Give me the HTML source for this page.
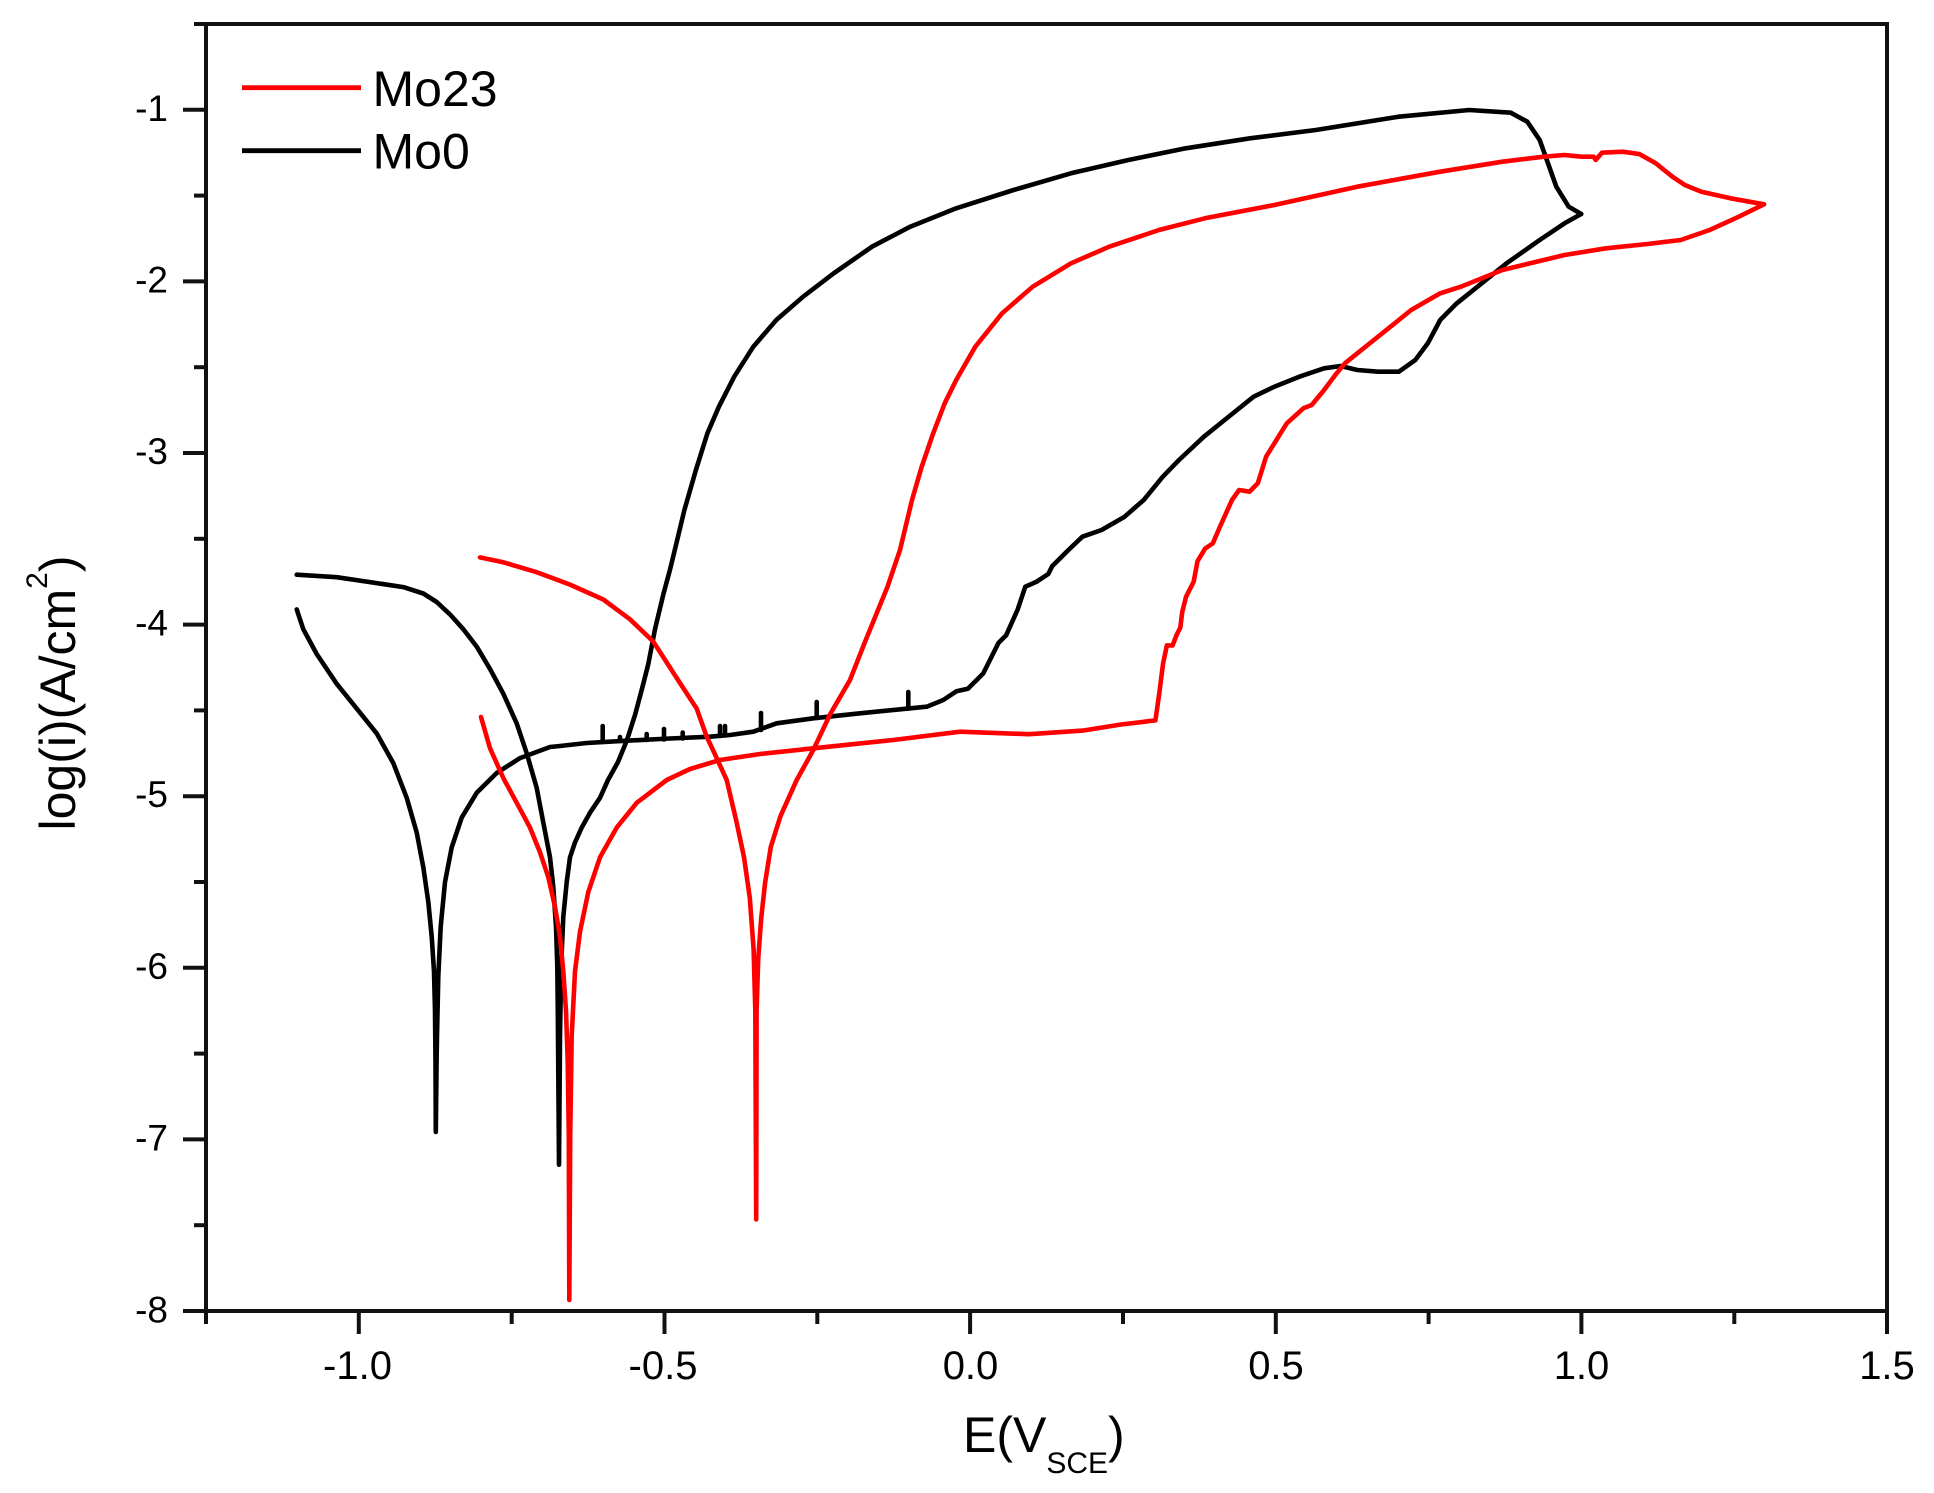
<!DOCTYPE html>
<html>
<head>
<meta charset="utf-8">
<style>
  html,body{margin:0;padding:0;background:#fff;}
  svg{display:block;}
  text{font-family:"Liberation Sans",Arial,sans-serif;fill:#000;}
</style>
</head>
<body>
<svg width="1934" height="1493" viewBox="0 0 1934 1493" xmlns="http://www.w3.org/2000/svg">
  <rect x="0" y="0" width="1934" height="1493" fill="#fff"/>

  <!-- Axes frame -->
  <g stroke="#111" stroke-width="4" fill="none" stroke-linecap="square">
    <line x1="206" y1="24" x2="1887" y2="24"/>
    <line x1="1887" y1="24" x2="1887" y2="1311"/>
    <line x1="206" y1="24" x2="206" y2="1311"/>
    <line x1="206" y1="1311" x2="1887" y2="1311"/>
  </g>

  <!-- Y ticks -->
  <g stroke="#111" stroke-width="4">
    <line x1="183" y1="109.8" x2="206" y2="109.8"/>
    <line x1="183" y1="281.4" x2="206" y2="281.4"/>
    <line x1="183" y1="453" x2="206" y2="453"/>
    <line x1="183" y1="624.6" x2="206" y2="624.6"/>
    <line x1="183" y1="796.2" x2="206" y2="796.2"/>
    <line x1="183" y1="967.8" x2="206" y2="967.8"/>
    <line x1="183" y1="1139.4" x2="206" y2="1139.4"/>
    <line x1="183" y1="1311" x2="206" y2="1311"/>
    <line x1="194" y1="24" x2="206" y2="24"/>
    <line x1="194" y1="195.6" x2="206" y2="195.6"/>
    <line x1="194" y1="367.2" x2="206" y2="367.2"/>
    <line x1="194" y1="538.8" x2="206" y2="538.8"/>
    <line x1="194" y1="710.4" x2="206" y2="710.4"/>
    <line x1="194" y1="882" x2="206" y2="882"/>
    <line x1="194" y1="1053.6" x2="206" y2="1053.6"/>
    <line x1="194" y1="1225.2" x2="206" y2="1225.2"/>
  </g>
  <!-- X ticks -->
  <g stroke="#111" stroke-width="4">
    <line x1="358.8" y1="1311" x2="358.8" y2="1334"/>
    <line x1="664.5" y1="1311" x2="664.5" y2="1334"/>
    <line x1="970.1" y1="1311" x2="970.1" y2="1334"/>
    <line x1="1275.8" y1="1311" x2="1275.8" y2="1334"/>
    <line x1="1581.4" y1="1311" x2="1581.4" y2="1334"/>
    <line x1="1887" y1="1311" x2="1887" y2="1334"/>
    <line x1="206" y1="1311" x2="206" y2="1324"/>
    <line x1="511.7" y1="1311" x2="511.7" y2="1324"/>
    <line x1="817.3" y1="1311" x2="817.3" y2="1324"/>
    <line x1="1123" y1="1311" x2="1123" y2="1324"/>
    <line x1="1428.6" y1="1311" x2="1428.6" y2="1324"/>
    <line x1="1734.3" y1="1311" x2="1734.3" y2="1324"/>
  </g>

  <!-- Y tick labels -->
  <g font-size="37" text-anchor="end">
    <text x="168" y="121">-1</text>
    <text x="168" y="292.5">-2</text>
    <text x="168" y="464">-3</text>
    <text x="168" y="635.5">-4</text>
    <text x="168" y="807">-5</text>
    <text x="168" y="979">-6</text>
    <text x="168" y="1150.5">-7</text>
    <text x="168" y="1322.5">-8</text>
  </g>
  <!-- X tick labels -->
  <g font-size="40" text-anchor="middle">
    <text x="357.5" y="1379">-1.0</text>
    <text x="663" y="1379">-0.5</text>
    <text x="970.5" y="1379">0.0</text>
    <text x="1276" y="1379">0.5</text>
    <text x="1581.5" y="1379">1.0</text>
    <text x="1887" y="1379">1.5</text>
  </g>

  <!-- Axis titles -->
  <text x="963" y="1452" font-size="50">E(V<tspan font-size="30" dy="21">SCE</tspan><tspan dy="-21">)</tspan></text>
  <text transform="translate(75,693) rotate(-90)" text-anchor="middle" font-size="50">log(i)(A/cm<tspan font-size="30" dy="-28">2</tspan><tspan dy="28">)</tspan></text>

  <!-- Legend -->
  <line x1="242" y1="87.7" x2="361" y2="87.7" stroke="#ff0000" stroke-width="4.8"/>
  <text x="372.5" y="106" font-size="50">Mo23</text>
  <line x1="242" y1="150.7" x2="361" y2="150.7" stroke="#000" stroke-width="4.8"/>
  <text x="372.5" y="168.3" font-size="50">Mo0</text>

  <!-- Mo0 (black) -->
  <g fill="none" stroke="#000" stroke-width="4.6" stroke-linejoin="round" stroke-linecap="round">
    <!-- forward scan -->
    <polyline points="296.7,609.4 303.3,629.2 316.7,654 336.7,683.8 356.7,708.6 376.7,733.4 393.3,763.1 406.7,797.8 416.7,832.5 423.3,867.2 428.3,901.9 431.7,936.6 434,971.3 435,1011 435.5,1060.6 435.8,1132 436.6,1060 437,1035.8 438.3,976.3 440.7,926.7 445,882.1 451.7,847.4 461.7,817.6 476.7,792.8 496.7,773 520,758.1 550,747 560,746 586.7,743 626.7,740.7 670,738.5 710,736.7 730,735 753.3,731.7 776.7,723.3 813.3,718.3 860,713.3 926.7,706.7 943.3,700 956.4,691.3 967.9,688.8 983.2,673.5 998.5,642.9 1006.2,635.2 1017.6,609.7 1025.3,586.7 1036.8,581.6 1048.3,574 1052.1,566.3 1067.4,551 1082.4,536.7 1101.6,530 1124.6,516.7 1143.7,500 1162.8,476.7 1179,460 1203.9,436.7 1224.6,420 1253.6,396.7 1274.4,386.7 1299.3,376.7 1324.1,368.3 1340.7,366 1357.3,370 1378,371.7 1398.8,371.7 1415.3,360 1427.8,343.3 1440.2,320 1456.8,303.3 1481.7,283.3 1506.6,263.3 1539.7,240 1564.6,223.3 1581.2,214"/>
    <!-- reverse scan -->
    <polyline points="1581.2,214 1568.7,206.7 1556.3,186.7 1548,163.3 1539.7,140 1527.3,121.7 1510.7,112.7 1469.2,110 1398.8,116.7 1315.8,130 1250,138.3 1185.8,148.3 1128.4,160 1071,173.3 1013.6,190 956.2,208.3 910.2,226.7 872,246.7 833.7,273.3 803.1,296.7 776.3,320 753.3,346.7 734.2,376.7 718.9,406.7 707.4,433.3 695.9,470 684.4,510 676,545 670,569.7 663.3,594.5 655,629.2 648.3,664 643,685 635,715 627,740 618,762 608,780 600,797.8 590,812.7 581.7,827.6 575,842.4 570,857.3 566.7,882.1 563.3,916.8 561.3,961.4 560,1035.8 559,1164.7 558.2,1060.6 557.8,1011 557.3,966.4 556,926.7 553.3,887.1 550,857.3 543.3,822.6 536.7,787.9 526.7,753.2 516.7,723.4 503.3,693.7 490,668.9 476.7,646.6 463.3,629.2 450,614.4 436.7,602 423.3,593.5 403.3,587.1 370,582.1 336.7,577.2 296.7,574.7"/>
    <!-- pitting spikes -->
    <line x1="602.7" y1="741" x2="602.7" y2="726"/>
    <line x1="620" y1="741" x2="620" y2="737"/>
    <line x1="646.7" y1="740" x2="646.7" y2="734"/>
    <line x1="664" y1="739.5" x2="664" y2="729"/>
    <line x1="682.7" y1="738.5" x2="682.7" y2="732.5"/>
    <line x1="720" y1="736" x2="720" y2="726"/>
    <line x1="725" y1="735.5" x2="725" y2="726"/>
    <line x1="761" y1="730" x2="761" y2="713"/>
    <line x1="816.7" y1="718" x2="816.7" y2="702"/>
    <line x1="908.3" y1="708.5" x2="908.3" y2="692"/>
  </g>

  <!-- Mo23 (red) -->
  <g fill="none" stroke="#ff0000" stroke-width="4.6" stroke-linejoin="round" stroke-linecap="round">
    <!-- forward scan -->
    <polyline points="481,717 490,748.2 503.3,778 516.7,802.8 530,827.6 540,852.3 548.3,877.1 555,906.9 560,936.6 563.3,971.3 566,1011 567.7,1060.6 568.8,1134.9 569.3,1300 570.2,1135 571.7,1035.8 575,971.3 580,931.7 588.3,892 600,857.3 616.7,827.6 636.7,802.8 666.7,780 690,769 720,760 760,754 813.3,748.3 893.3,740 960,731.7 1029.1,734.2 1082.7,730.6 1121,724.5 1155.4,720.4 1159.2,693.9 1163.1,663.3 1166.9,645.4 1172.6,645.4 1176.5,635.2 1180.3,627.6 1182.2,612.2 1186,596.9 1193.7,581.6 1197.5,561.2 1205.2,548.5 1212.8,543.4 1220.5,525.5 1232,500 1239.1,490 1249.5,491.7 1257.8,483.3 1266.1,456.7 1274.4,443.3 1286.8,423.3 1303.4,408.3 1311.7,405 1324.1,390 1336.6,373.3 1344.9,363.3 1357.3,353.3 1373.9,340 1390.5,326.7 1411.2,310 1440.2,293.3 1460.9,286.7 1502.4,270 1523.1,265 1564.6,255 1606,248.3 1647.5,244 1680.7,240 1709.7,230 1738.8,216.7 1764,204.3"/>
    <!-- reverse scan -->
    <polyline points="1764,204.3 1730.5,198.3 1701.4,191.7 1684.8,185 1672.4,176.7 1655.8,163.3 1639.2,154 1622.6,151.7 1601.9,152.7 1595.7,160 1593.6,156.7 1581.2,156.7 1564.6,155 1543.9,156.7 1502.4,161.7 1440.2,171.7 1357.3,186.7 1274.4,205 1204.9,218.3 1159,230 1109.2,246.7 1071,263.3 1032.7,286.7 1002.1,313.3 975.3,346.7 956.2,380 944.7,403.3 933.2,433.3 921.7,466.7 912,500 900,550 887.5,586.7 864.6,642.9 850,680 830.1,714.3 813.3,750 796.7,780 780.4,816.3 770.8,846.9 765.1,882.7 761.2,918.4 758.2,959.2 756.6,1010.2 756.2,1219.4 755.3,1010.2 753.6,949 749.8,898 744,857.1 736.4,821.4 726.7,780 715.3,755.1 706.7,736.7 696.7,708.6 676.7,678 653.3,641.6 630,619.3 603.3,599.5 570,584.6 536.7,572.2 503.3,562.3 480,557.4"/>
  </g>
</svg>
</body>
</html>
